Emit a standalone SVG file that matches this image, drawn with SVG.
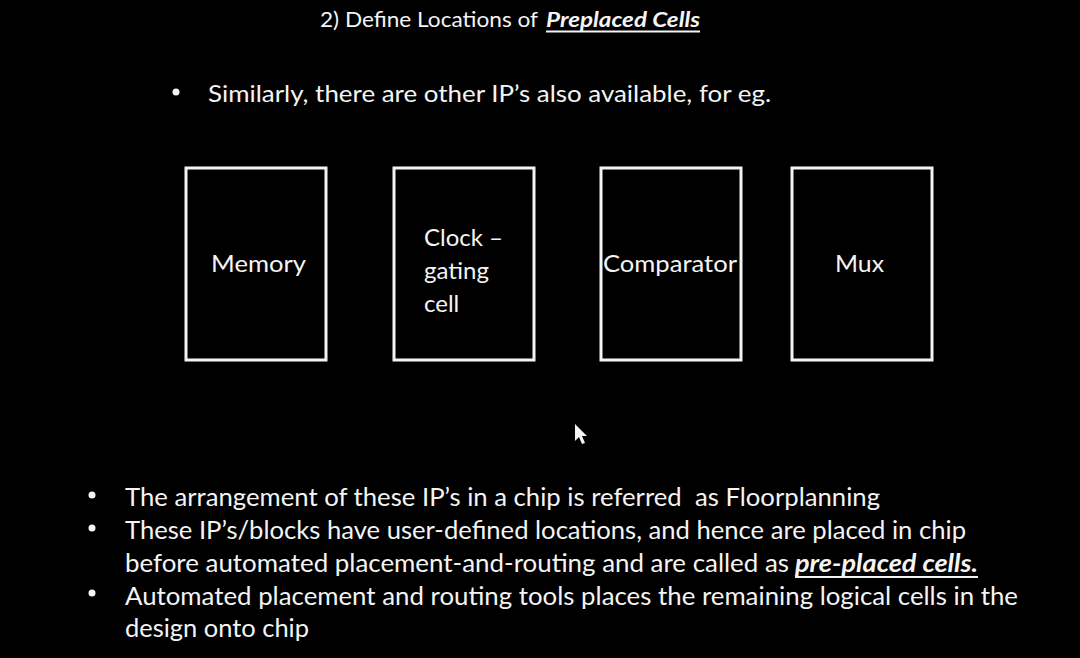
<svg xmlns="http://www.w3.org/2000/svg" width="1080" height="658" viewBox="0 0 1080 658">
<style>
.t{font-family:Lato,"Open Sans","Liberation Sans",sans-serif;fill:#f4f4f4}
.h{font-size:21px}
.b{font-size:24px}
.s{font-size:25px}
.bi{font-weight:bold;font-style:italic}
.box{fill:#000;stroke:#f4f4f4;stroke-width:3}
.ul{stroke:#f4f4f4;stroke-width:1.8}
</style>
<rect x="0" y="0" width="1080" height="658" fill="#000"/>
<g id="title">
<text class="t h" x="320" y="27" textLength="218" lengthAdjust="spacingAndGlyphs">2) Define Locations of</text>
<text class="t h bi" x="546" y="27" textLength="154" lengthAdjust="spacingAndGlyphs">Preplaced Cells</text>
<line class="ul" x1="546" y1="31.5" x2="700" y2="31.5"/>
</g>
<g id="intro">
<circle cx="176" cy="92" r="3.5" fill="#f4f4f4"/>
<text class="t b" x="208" y="102" textLength="563" lengthAdjust="spacingAndGlyphs">Similarly, there are other IP’s also available, for eg.</text>
</g>
<g id="memory">
<rect class="box" x="186" y="168" width="140" height="192"/>
<text class="t b" x="211" y="272" textLength="95" lengthAdjust="spacingAndGlyphs">Memory</text>
</g>
<g id="clock-gating">
<rect class="box" x="394" y="168" width="140" height="192"/>
<text class="t b" x="424" y="246">Clock –</text>
<text class="t b" x="424" y="279">gating</text>
<text class="t b" x="424" y="312">cell</text>
</g>
<g id="comparator">
<rect class="box" x="601" y="168" width="140" height="192"/>
<text class="t b" x="603" y="272" textLength="134" lengthAdjust="spacingAndGlyphs">Comparator</text>
</g>
<g id="mux">
<rect class="box" x="792" y="168" width="140" height="192"/>
<text class="t b" x="835" y="272" textLength="49" lengthAdjust="spacingAndGlyphs">Mux</text>
</g>
<g id="connectors"></g>
<polygon points="575,424 575,441 579,437 582,444 585,443 582,436 587,436" fill="#f4f4f4"/>
<g id="bullets">
<circle cx="92" cy="495" r="3.5" fill="#f4f4f4"/>
<text class="t s" x="125" y="506" textLength="755" lengthAdjust="spacingAndGlyphs" xml:space="preserve">The arrangement of these IP’s in a chip is referred  as Floorplanning</text>
<circle cx="92" cy="528" r="3.5" fill="#f4f4f4"/>
<text class="t s" x="125" y="539" textLength="841" lengthAdjust="spacingAndGlyphs">These IP’s/blocks have user-defined locations, and hence are placed in chip</text>
<text class="t s" x="125" y="572" textLength="664" lengthAdjust="spacingAndGlyphs">before automated placement-and-routing and are called as</text>
<text class="t s bi" x="795" y="572" textLength="183" lengthAdjust="spacingAndGlyphs">pre-placed cells.</text>
<line class="ul" x1="795" y1="577" x2="978" y2="577"/>
<circle cx="92" cy="593" r="3.5" fill="#f4f4f4"/>
<text class="t s" x="125" y="605" textLength="893" lengthAdjust="spacingAndGlyphs">Automated placement and routing tools places the remaining logical cells in the</text>
<text class="t s" x="125" y="637" textLength="184" lengthAdjust="spacingAndGlyphs">design onto chip</text>
</g>
</svg>
